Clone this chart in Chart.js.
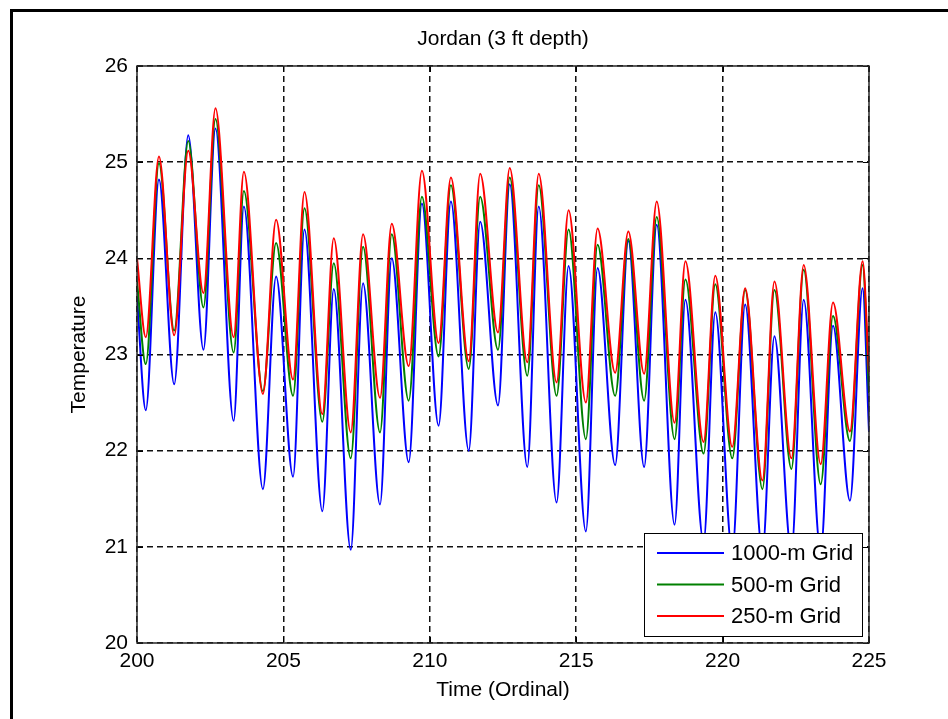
<!DOCTYPE html>
<html>
<head>
<meta charset="utf-8">
<title>Jordan (3 ft depth)</title>
<script src="https://cdn.jsdelivr.net/npm/chart.js@4.4.1/dist/chart.umd.min.js"></script>
<style>
  html, body { margin: 0; padding: 0; background: #fff; overflow: hidden; }
  #wrap { position: relative; width: 948px; height: 719px; overflow: hidden; }
  #frame {
    position: absolute; left: 10px; top: 9px; right: -20px; bottom: -20px;
    border-left: 3px solid #000; border-top: 3px solid #000;
  }
  #temps { position: absolute; left: 0; top: 0; }
</style>
</head>
<body>
<div id="wrap">
  <div id="frame"></div>
  <canvas id="temps" width="948" height="719"></canvas>
</div>
<script>
// daily highs and lows (ordinal day), shared by the three grid runs
const days = [
  200.0, 200.3, 200.75, 201.27, 201.75, 202.27, 202.68, 203.3, 203.65, 204.3, 204.75,
  205.33, 205.72, 206.33, 206.72, 207.3, 207.72, 208.3, 208.7, 209.28, 209.73,
  210.3, 210.72, 211.33, 211.72, 212.33, 212.73, 213.33, 213.72, 214.33, 214.74,
  215.33, 215.73, 216.33, 216.78, 217.32, 217.75, 218.36, 218.73, 219.35, 219.75,
  220.33, 220.77, 221.36, 221.77, 222.35, 222.77, 223.35, 223.77, 224.35, 224.78, 225.0
];

const grid1000 = [
  23.6, 22.42, 24.82, 22.69, 25.28, 23.05, 25.35, 22.31, 24.54, 21.6, 23.81,
  21.73, 24.3, 21.37, 23.68, 20.97, 23.74, 21.44, 24.0, 21.88, 24.57,
  22.26, 24.59, 22.0, 24.38, 22.47, 24.77, 21.83, 24.54, 21.46, 23.92,
  21.16, 23.9, 21.85, 24.18, 21.83, 24.35, 21.23, 23.57, 21.05, 23.44,
  20.95, 23.52, 20.95, 23.19, 20.95, 23.57, 20.95, 23.3, 21.48, 23.69, 22.2
];

const grid500 = [
  23.76, 22.9, 24.99, 23.25, 25.22, 23.49, 25.45, 23.02, 24.7, 22.62, 24.16,
  22.57, 24.52, 22.3, 23.95, 21.92, 24.12, 22.19, 24.25, 22.52, 24.64,
  22.98, 24.76, 22.85, 24.64, 23.05, 24.84, 22.78, 24.76, 22.57, 24.3,
  22.12, 24.14, 22.57, 24.2, 22.52, 24.43, 22.12, 23.78, 21.97, 23.73,
  21.92, 23.67, 21.6, 23.67, 21.81, 23.88, 21.65, 23.4, 22.1, 23.93, 22.6
];

const grid250 = [
  24.0, 23.18, 25.06, 23.2, 25.12, 23.64, 25.56, 23.18, 24.9, 22.59, 24.4,
  22.74, 24.69, 22.38, 24.21, 22.19, 24.25, 22.55, 24.36, 22.88, 24.91,
  23.12, 24.84, 22.93, 24.88, 23.23, 24.94, 22.92, 24.88, 22.71, 24.5,
  22.5, 24.31, 22.81, 24.28, 22.8, 24.59, 22.29, 23.97, 22.09, 23.82,
  22.04, 23.69, 21.69, 23.76, 21.92, 23.93, 21.86, 23.54, 22.2, 23.97, 22.8
];

const seriesNames = ['1000-m Grid', '500-m Grid', '250-m Grid'];
const seriesColors = ['#0000ff', '#008000', '#ff0000'];

const toPoints = vals => vals.map((v, i) => ({ x: days[i], y: v }));

Chart.defaults.font.family = "'Liberation Sans', Arial, sans-serif";
Chart.defaults.color = '#000';

// box, inward ticks and legend drawn the way MATLAB does it
const tickLen = 6;
const matlabAxes = {
  id: 'matlabAxes',
  afterDatasetsDraw(chart) {
    const { ctx, chartArea: a, scales: { x, y } } = chart;
    ctx.save();
    ctx.setLineDash([]);
    ctx.strokeStyle = '#000';
    ctx.lineWidth = 1;
    ctx.beginPath();
    x.ticks.forEach(t => {
      const px = Math.round(x.getPixelForValue(t.value)) + 0.5;
      ctx.moveTo(px, a.bottom); ctx.lineTo(px, a.bottom - tickLen);
      ctx.moveTo(px, a.top); ctx.lineTo(px, a.top + tickLen);
    });
    y.ticks.forEach(t => {
      const py = Math.round(y.getPixelForValue(t.value)) + 0.5;
      ctx.moveTo(a.left, py); ctx.lineTo(a.left + tickLen, py);
      ctx.moveTo(a.right, py); ctx.lineTo(a.right - tickLen, py);
    });
    ctx.stroke();

    ctx.strokeStyle = '#262626';
    ctx.lineWidth = 1.5;
    ctx.strokeRect(a.left, a.top, a.right - a.left, a.bottom - a.top);

    // legend in the lower right corner of the axes
    const w = 218, h = 103;
    const lx = a.right - 7 - w, ly = a.bottom - 7 - h;
    ctx.fillStyle = '#fff';
    ctx.fillRect(lx, ly, w, h);
    ctx.strokeStyle = '#000';
    ctx.lineWidth = 1;
    ctx.strokeRect(lx + 0.5, ly + 0.5, w, h);
    ctx.font = "22px 'Liberation Sans', Arial, sans-serif";
    ctx.textBaseline = 'middle';
    ctx.textAlign = 'left';
    chart.data.datasets.forEach((ds, i) => {
      const ry = ly + 20 + i * 31.5;
      ctx.strokeStyle = ds.borderColor;
      ctx.lineWidth = 2;
      ctx.beginPath();
      ctx.moveTo(lx + 13, ry); ctx.lineTo(lx + 80, ry);
      ctx.stroke();
      ctx.fillStyle = '#000';
      ctx.fillText(ds.label, lx + 87, ry + 1);
    });
    ctx.restore();
  }
};

new Chart(document.getElementById('temps'), {
  type: 'line',
  data: {
    datasets: [grid1000, grid500, grid250].map((vals, i) => ({
      label: seriesNames[i],
      data: toPoints(vals),
      borderColor: seriesColors[i],
      borderWidth: 2,
      pointRadius: 0,
      fill: false,
      cubicInterpolationMode: 'monotone',
      order: 3 - i
    }))
  },
  options: {
    responsive: false,
    animation: false,
    events: [],
    layout: { padding: { left: 0, right: 79, top: 0, bottom: 0 } },
    scales: {
      x: {
        type: 'linear',
        min: 200,
        max: 225,
        afterFit: s => { s.height = 76; },
        ticks: { stepSize: 5, padding: 6, font: { size: 21 } },
        grid: { color: '#111', lineWidth: 1.5, drawTicks: false },
        border: { display: false, dash: [6, 4] },
        title: {
          display: true,
          text: 'Time (Ordinal)',
          font: { size: 21 },
          padding: { top: 0, bottom: 16 }
        }
      },
      y: {
        min: 20,
        max: 26,
        afterFit: s => { s.width = 137; },
        ticks: { stepSize: 1, padding: 9, font: { size: 21 } },
        grid: { color: '#111', lineWidth: 1.5, drawTicks: false },
        border: { display: false, dash: [6, 4] },
        title: {
          display: true,
          text: 'Temperature',
          font: { size: 21 },
          padding: { top: 67, bottom: 0 }
        }
      }
    },
    plugins: {
      legend: { display: false },
      tooltip: { enabled: false },
      title: {
        display: true,
        text: 'Jordan (3 ft depth)',
        fullSize: false,
        font: { size: 21, weight: 'normal' },
        padding: { top: 27, bottom: 13.8 }
      }
    }
  },
  plugins: [matlabAxes]
});
</script>
</body>
</html>
